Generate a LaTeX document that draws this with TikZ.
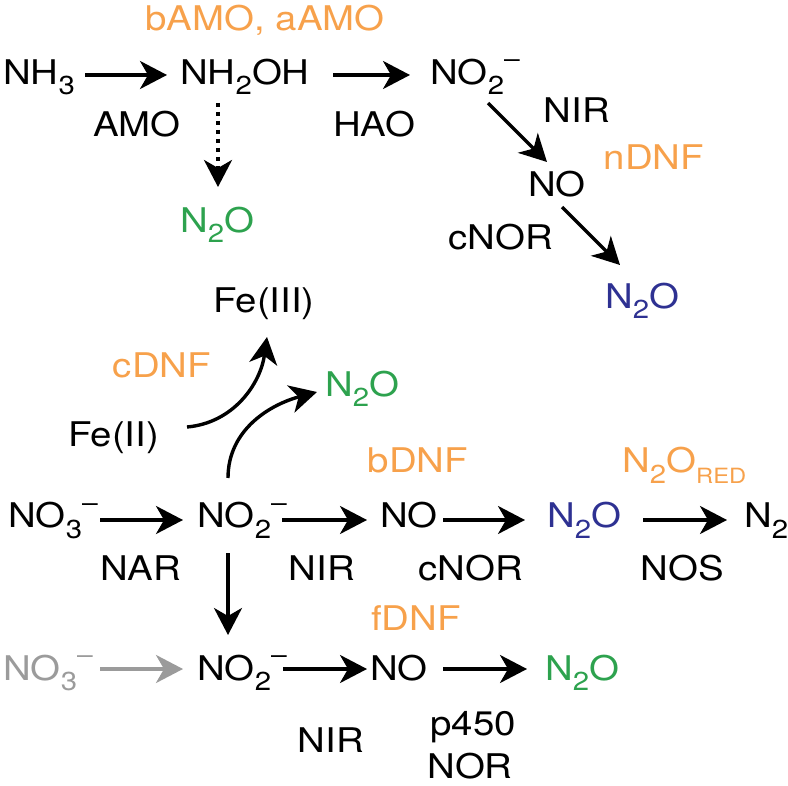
\documentclass[tikz,border=0pt]{standalone}
\usepackage{fontspec}
\setmainfont{TeX Gyre Heros}[FakeStretch=1.13]
\usetikzlibrary{arrows.meta,calc}
\definecolor{dnforange}{HTML}{F7A14B}
\definecolor{ntgreen}{HTML}{2DA24E}
\definecolor{ntblue}{HTML}{2E3192}
\definecolor{ntgrey}{HTML}{9B9B9B}
\newcommand\sbs[1]{\raisebox{-10pt}{\fontsize{26}{26}\selectfont #1}}
\newcommand\sbr[1]{\raisebox{-10pt}{\fontsize{21}{21}\selectfont #1}}
\newcommand\mns{\raisebox{17pt}{\fontsize{25}{25}\selectfont –}}
\begin{document}
\begin{tikzpicture}[x=1pt,y=-1pt,
  every node/.style={inner sep=0pt, font=\fontsize{34}{40}\selectfont},
  org/.style={text=dnforange},
  grn/.style={text=ntgreen},
  blu/.style={text=ntblue},
  gry/.style={text=ntgrey},
  arr/.style={line width=3.4pt, -{Stealth[length=27pt,width=28pt,inset=8pt]}},
  dotarr/.style={arr, dash pattern=on 4pt off 5pt}]
\useasboundingbox (0,0) rectangle (788,786);
% top row
\node[anchor=base west] (nh3) at (3,85) {NH\sbs{3}};
\node[anchor=base west] (nh2oh) at (180,85) {NH\sbs{2}OH};
\node[anchor=base west] (no2a) at (430,85) {NO\sbs{2}\mns};
\node[anchor=base, org] (bamo) at (265,31) {bAMO, aAMO};
\node[anchor=base] (amo) at (137,137) {AMO};
\node[anchor=base west] (hao) at (333,137) {HAO};
\node[anchor=base, grn] (n2oa) at (217,233) {N\sbs{2}O};
\node[anchor=base] (nira) at (577,123) {NIR};
\node[anchor=base, org] (ndnf) at (654,170) {nDNF};
\node[anchor=base west] (noa) at (528,197) {NO};
\node[anchor=base] (cnora) at (501,250) {cNOR};
\node[anchor=base west, blu] (n2ob) at (605,309) {N\sbs{2}O};
% middle
\node[anchor=base west] (fe3) at (213,313) {Fe(III)};
\node[anchor=base, org] (cdnf) at (162,378) {cDNF};
\node[anchor=base west, grn] (n2oc) at (325,397) {N\sbs{2}O};
\node[anchor=base west] (fe2) at (68,447) {Fe(II)};
\node[anchor=base, org] (bdnf) at (418,472) {bDNF};
\node[anchor=base west, org] (n2ored) at (622,473) {N\sbs{2}O\sbr{RED}};
% row 2
\node[anchor=base west] (no3a) at (8,528) {NO\sbs{3}\mns};
\node[anchor=base west] (no2b) at (197,528) {NO\sbs{2}\mns};
\node[anchor=base west] (nob) at (380,528) {NO};
\node[anchor=base west, blu] (n2od) at (547,528) {N\sbs{2}O};
\node[anchor=base west] (n2) at (744,528) {N\sbs{2}};
\node[anchor=base] (nar) at (141,580) {NAR};
\node[anchor=base] (nirb) at (322,580) {NIR};
\node[anchor=base] (cnorb) at (471,580) {cNOR};
\node[anchor=base] (nos) at (682,580) {NOS};
% row 3
\node[anchor=base, org] (fdnf) at (416,630) {fDNF};
\node[anchor=base west, gry] (no3b) at (3,680) {NO\sbs{3}\mns};
\node[anchor=base west] (no2c) at (197,680) {NO\sbs{2}\mns};
\node[anchor=base west] (noc) at (370,680) {NO};
\node[anchor=base west, grn] (n2oe) at (545,680) {N\sbs{2}O};
\node[anchor=base] (nirc) at (331,752) {NIR};
\node[anchor=base] (p450) at (473,735) {p450};
\node[anchor=base] (nor) at (470,778) {NOR};
% arrows top
\draw[arr] ($(nh3.base west)+(82,-10)$) -- ($(nh2oh.base west)+(-13,-10)$);
\draw[arr] ($(nh2oh.base west)+(153,-10)$) -- ($(no2a.base west)+(-20,-10)$);
\draw[dotarr] ($(nh2oh.base west)+(38,18)$) -- ($(n2oa.base)+(1,-46)$);
\draw[arr] ($(no2a.base west)+(58,18)$) -- ($(noa.base west)+(19,-35)$);
\draw[arr] ($(noa.base west)+(34,10)$) -- ($(n2ob.base west)+(15,-44)$);
% curved arrows
\draw[arr] ($(fe2.base west)+(119,-20)$) to[out=5,in=-98] ($(fe3.base west)+(54,24)$);
\draw[arr] ($(no2b.base west)+(31,-50)$) to[out=90,in=195] ($(n2oc.base west)+(-8,-5)$);
% row 2 arrows
\draw[arr] ($(no3a.base west)+(92,-8)$) -- ($(no2b.base west)+(-14,-8)$);
\draw[arr] ($(no2b.base west)+(85,-8)$) -- ($(nob.base west)+(-13,-8)$);
\draw[arr] ($(nob.base west)+(63,-8)$) -- ($(n2od.base west)+(-22,-8)$);
\draw[arr] ($(n2od.base west)+(96,-8)$) -- ($(n2.base west)+(-17,-8)$);
% vertical
\draw[arr] ($(no2b.base west)+(31,25)$) -- ($(no2c.base west)+(31,-45)$);
% row 3 arrows
\draw[arr, draw=ntgrey, fill=ntgrey] ($(no3b.base west)+(97,-11)$) -- ($(no2c.base west)+(-14,-11)$);
\draw[arr] ($(no2c.base west)+(86,-11)$) -- ($(noc.base west)+(-3,-11)$);
\draw[arr] ($(noc.base west)+(73,-11)$) -- ($(n2oe.base west)+(-18,-11)$);
\end{tikzpicture}
\end{document}
